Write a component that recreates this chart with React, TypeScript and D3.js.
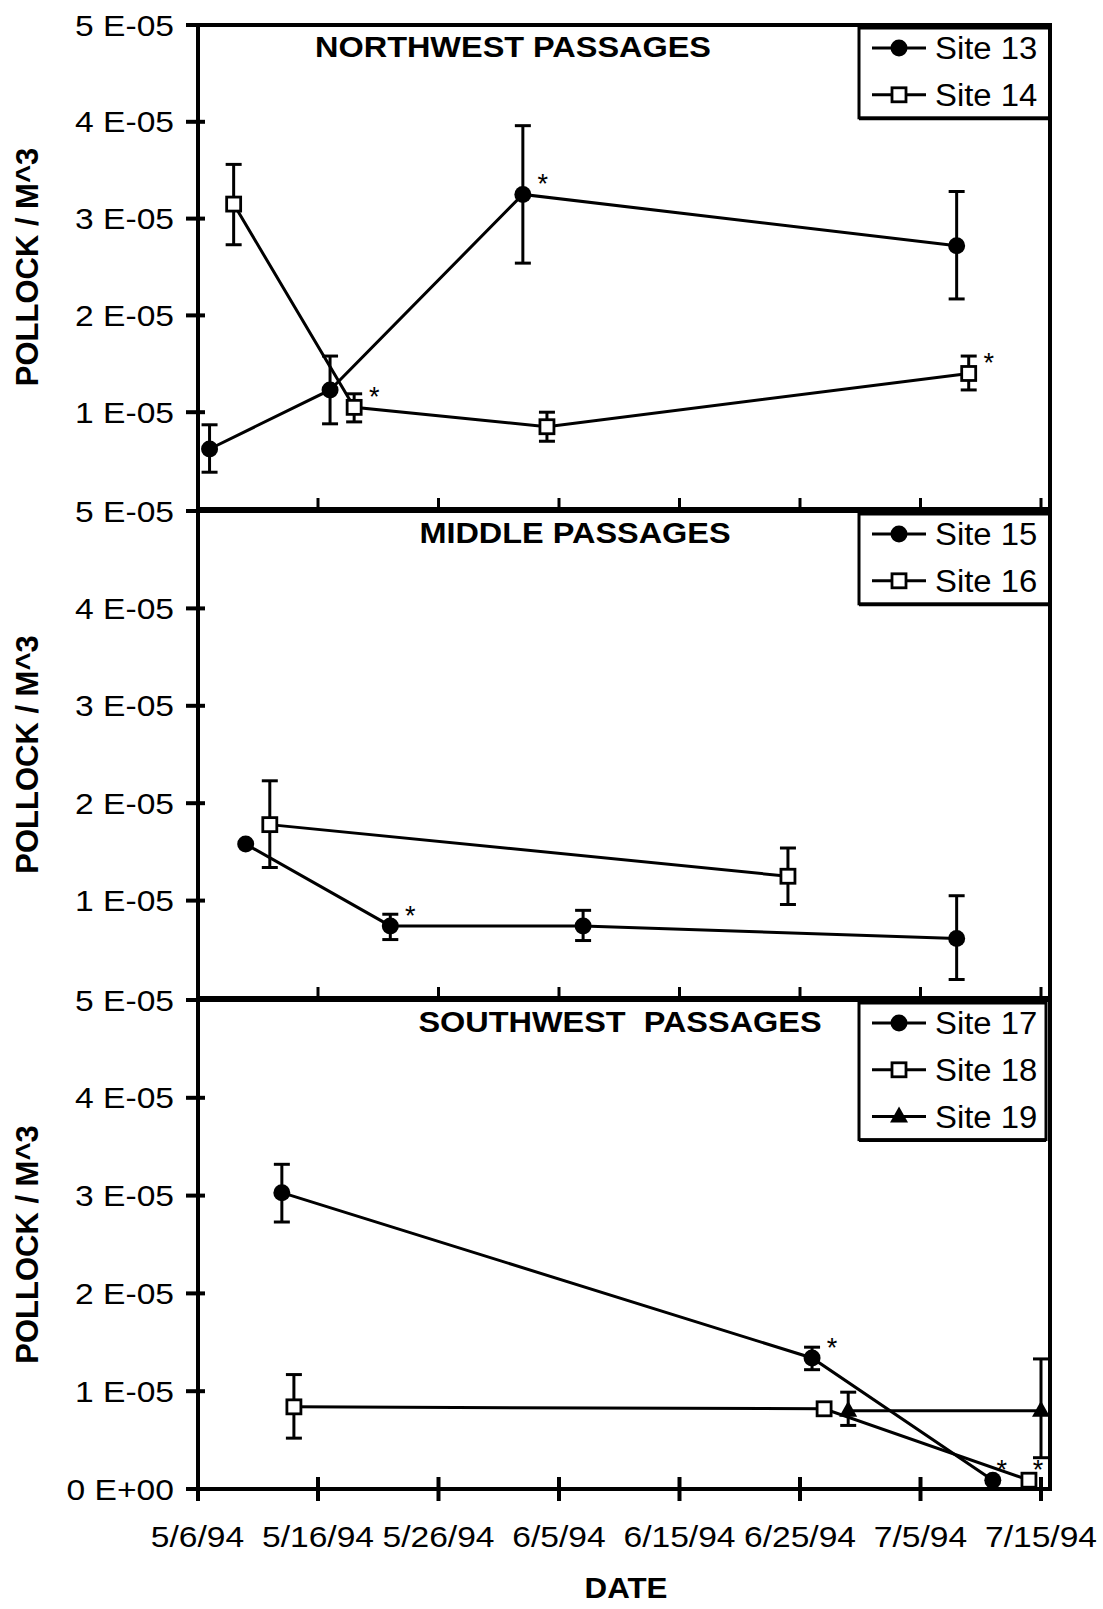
import React from "react";
import * as d3 from "d3";

const parseDate = d3.timeParse("%m/%d/%y");

// axis ticks
const tickDates = ["05/06/94", "05/16/94", "05/26/94", "06/05/94", "06/15/94", "06/25/94", "07/05/94", "07/15/94"];
const tickDateLabels = ["5/6/94", "5/16/94", "5/26/94", "6/5/94", "6/15/94", "6/25/94", "7/5/94", "7/15/94"];
const yTickValues = [0, 1e-5, 2e-5, 3e-5, 4e-5, 5e-5];
const yTickLabels = ["0 E+00", "1 E-05", "2 E-05", "3 E-05", "4 E-05", "5 E-05"];

const panelTitles = ["NORTHWEST PASSAGES", "MIDDLE PASSAGES", "SOUTHWEST  PASSAGES"];

// Northwest
const site13Dates = ["05/07/94", "05/17/94", "06/02/94", "07/08/94"];
const site13Values = [6.2e-6, 1.23e-5, 3.25e-5, 2.72e-5];
const site13High = [8.7e-6, 1.58e-5, 3.96e-5, 3.28e-5];
const site13Low = [3.8e-6, 8.8e-6, 2.54e-5, 2.17e-5];
const site13Stars = [2];

const site14Dates = ["05/09/94", "05/19/94", "06/04/94", "07/09/94"];
const site14Values = [3.15e-5, 1.05e-5, 8.5e-6, 1.4e-5];
const site14High = [3.56e-5, 1.19e-5, 1.0e-5, 1.58e-5];
const site14Low = [2.73e-5, 9.0e-6, 7.0e-6, 1.23e-5];
const site14Stars = [1, 3];

// Middle
const site15Dates = ["05/10/94", "05/22/94", "06/07/94", "07/08/94"];
const site15Values = [1.58e-5, 7.4e-6, 7.4e-6, 6.1e-6];
const site15High = [null, 8.6e-6, 9.0e-6, 1.05e-5];
const site15Low = [null, 6.0e-6, 5.9e-6, 1.9e-6];
const site15Stars = [1];

const site16Dates = ["05/12/94", "06/24/94"];
const site16Values = [1.78e-5, 1.25e-5];
const site16High = [2.23e-5, 1.54e-5];
const site16Low = [1.34e-5, 9.6e-6];
const site16Stars: number[] = [];

// Southwest
const site17Dates = ["05/13/94", "06/26/94", "07/11/94"];
const site17Values = [3.03e-5, 1.34e-5, 9e-7];
const site17High = [3.32e-5, 1.45e-5, null];
const site17Low = [2.73e-5, 1.22e-5, null];
const site17Stars = [1, 2];

const site18Dates = ["05/14/94", "06/27/94", "07/14/94"];
const site18Values = [8.4e-6, 8.2e-6, 9e-7];
const site18High = [1.17e-5, null, null];
const site18Low = [5.2e-6, null, null];
const site18Stars = [2];

const site19Dates = ["06/29/94", "07/15/94"];
const site19Values = [8.0e-6, 8.0e-6];
const site19High = [9.9e-6, 1.33e-5];
const site19Low = [6.5e-6, 3.2e-6];
const site19Stars: number[] = [];

type Kind = "circle" | "square" | "triangle";
type Series = {
  name: string;
  kind: Kind;
  dates: string[];
  values: number[];
  high: (number | null)[];
  low: (number | null)[];
  stars: number[];
};

const mk = (name: string, kind: Kind, dates: string[], values: number[], high: (number | null)[], low: (number | null)[], stars: number[]): Series =>
  ({ name, kind, dates, values, high, low, stars });

const panelSeries: Series[][] = [
  [
    mk("Site 13", "circle", site13Dates, site13Values, site13High, site13Low, site13Stars),
    mk("Site 14", "square", site14Dates, site14Values, site14High, site14Low, site14Stars),
  ],
  [
    mk("Site 15", "circle", site15Dates, site15Values, site15High, site15Low, site15Stars),
    mk("Site 16", "square", site16Dates, site16Values, site16High, site16Low, site16Stars),
  ],
  [
    mk("Site 17", "circle", site17Dates, site17Values, site17High, site17Low, site17Stars),
    mk("Site 18", "square", site18Dates, site18Values, site18High, site18Low, site18Stars),
    mk("Site 19", "triangle", site19Dates, site19Values, site19High, site19Low, site19Stars),
  ],
];

const W = 1103;
const H = 1609;
const FONT = "'Liberation Sans', Arial, Helvetica, sans-serif";
const AXIS_X = 198;
const RIGHT_X = 1050;
const panelTops = [25, 511, 1000];
const panelBottoms = [509, 998, 1489];
const titleX = [513, 575, 620];

const x = d3
  .scaleTime()
  .domain([parseDate("05/06/94") as Date, parseDate("07/15/94") as Date])
  .range([197.5, 1041]);

const Txt = ({ x, y, size, bold, anchor, sx = 1.1, dy, children, pre }: any) => (
  <text
    transform={`translate(${x},${y}) scale(${sx},1)`}
    fontSize={size}
    fontWeight={bold ? "bold" : "normal"}
    textAnchor={anchor || "start"}
    dy={dy}
    style={pre ? { whiteSpace: "pre" } : undefined}
  >
    {children}
  </text>
);

const Marker = ({ kind, cx, cy }: { kind: Kind; cx: number; cy: number }) => {
  if (kind === "circle") return <circle cx={cx} cy={cy} r={8.5} fill="#000" />;
  if (kind === "square")
    return <rect x={cx - 7} y={cy - 7} width={14} height={14} fill="#fff" stroke="#000" strokeWidth={2.8} />;
  return <path d={`M${cx},${cy - 10}L${cx + 9},${cy + 6}L${cx - 9},${cy + 6}Z`} fill="#000" />;
};

const Panel = ({ index }: { index: number }) => {
  const top = panelTops[index];
  const bottom = panelBottoms[index];
  const isLast = index === panelTops.length - 1;
  const y = d3.scaleLinear().domain([0, 5e-5]).range([bottom, top]);
  const series = panelSeries[index];
  const ticks = yTickValues.map((v, i) => ({ v, label: yTickLabels[i] })).filter((t) => isLast || t.v !== 0);

  const legTop = top + 3;
  const rowGap = 46.8;
  const legBottom = legTop + 20 + (series.length - 1) * rowGap + 23;
  const legRight = isLast ? 1046 : RIGHT_X;

  return (
    <g>
      {/* top border */}
      <line x1={AXIS_X - 2} x2={RIGHT_X + 2} y1={top} y2={top} stroke="#000" strokeWidth={4} />
      {/* bottom line */}
      <line x1={AXIS_X - 2} x2={RIGHT_X + 2} y1={bottom} y2={bottom} stroke="#000" strokeWidth={4} />
      {tickDates.slice(1).map((d) => {
        const tx = x(parseDate(d) as Date);
        return isLast ? (
          <line key={d} x1={tx} x2={tx} y1={bottom - 12} y2={bottom + 12} stroke="#000" strokeWidth={4} />
        ) : (
          <line key={d} x1={tx} x2={tx} y1={bottom - 11} y2={bottom} stroke="#000" strokeWidth={3} />
        );
      })}

      {/* y ticks */}
      {ticks.map((t) => (
        <g key={t.label + t.v}>
          <line x1={186} x2={205} y1={y(t.v)} y2={y(t.v)} stroke="#000" strokeWidth={4} />
          <Txt x={174} y={y(t.v)} size={30} anchor="end" sx={1.12} dy="0.35em">
            {t.label}
          </Txt>
        </g>
      ))}
      <text
        transform={`translate(27,${(top + bottom) / 2}) rotate(-90)`}
        fontSize={31}
        fontWeight="bold"
        textAnchor="middle"
        dy="0.36em"
      >
        POLLOCK / M^3
      </text>

      <Txt x={titleX[index]} y={top + 32} size={29.5} bold anchor="middle" sx={1.1} pre>
        {panelTitles[index]}
      </Txt>

      {/* series */}
      {series.map((s) => {
        const pts = s.dates.map((d, i) => ({ px: x(parseDate(d) as Date), py: y(s.values[i]), i }));
        const line = d3
          .line<{ px: number; py: number }>()
          .x((p) => p.px)
          .y((p) => p.py);
        return (
          <g key={s.name}>
            <path d={line(pts) || ""} fill="none" stroke="#000" strokeWidth={3} />
            {pts.map((p) => {
              const hi = s.high[p.i];
              const lo = s.low[p.i];
              if (hi == null || lo == null) return null;
              return (
                <g key={"e" + p.i} stroke="#000" strokeWidth={3}>
                  <line x1={p.px} x2={p.px} y1={y(hi)} y2={y(lo)} />
                  <line x1={p.px - 8} x2={p.px + 8} y1={y(hi)} y2={y(hi)} />
                  <line x1={p.px - 8} x2={p.px + 8} y1={y(lo)} y2={y(lo)} />
                </g>
              );
            })}
            {pts.map((p) => (
              <Marker key={"m" + p.i} kind={s.kind} cx={p.px} cy={p.py} />
            ))}
            {s.stars.map((si) => {
              const p = pts[si];
              const dx = p.px > 980 ? 9 : 20;
              return (
                <text key={"s" + si} x={p.px + dx} y={p.py - 1} fontSize={27} textAnchor="middle">
                  *
                </text>
              );
            })}
          </g>
        );
      })}

      {/* legend */}
      <rect x={859} y={legTop} width={legRight - 859} height={legBottom - legTop} fill="#fff" stroke="#000" strokeWidth={3} />
      <line x1={859} x2={legRight} y1={legBottom + 1} y2={legBottom + 1} stroke="#000" strokeWidth={3} />
      {series.map((s, i) => {
        const ry = legTop + 20 + i * rowGap;
        return (
          <g key={"l" + s.name}>
            <line x1={872} x2={926} y1={ry} y2={ry} stroke="#000" strokeWidth={3} />
            <Marker kind={s.kind} cx={899} cy={ry} />
            <Txt x={935} y={ry} size={31} sx={1.06} dy="0.36em">
              {s.name}
            </Txt>
          </g>
        );
      })}
    </g>
  );
};

export default function App() {
  return (
    <svg
      width={W}
      height={H}
      style={{ position: "absolute", left: 0, top: 0, background: "#fff" }}
      fontFamily={FONT}
    >
      <rect width={W} height={H} fill="#fff" />
      {panelTops.map((_, i) => (
        <Panel key={i} index={i} />
      ))}
      {/* left axis and right border */}
      <line x1={AXIS_X} x2={AXIS_X} y1={panelTops[0] - 2} y2={panelBottoms[2] + 12} stroke="#000" strokeWidth={4} />
      <line x1={RIGHT_X} x2={RIGHT_X} y1={panelTops[0] - 2} y2={panelBottoms[2] + 2} stroke="#000" strokeWidth={4} />

      {tickDates.map((d, i) => (
        <Txt key={d} x={x(parseDate(d) as Date)} y={1547} size={30} anchor="middle" sx={1.12}>
          {tickDateLabels[i]}
        </Txt>
      ))}
      <Txt x={626} y={1598} size={29} bold anchor="middle" sx={1.08}>
        DATE
      </Txt>
    </svg>
  );
}
